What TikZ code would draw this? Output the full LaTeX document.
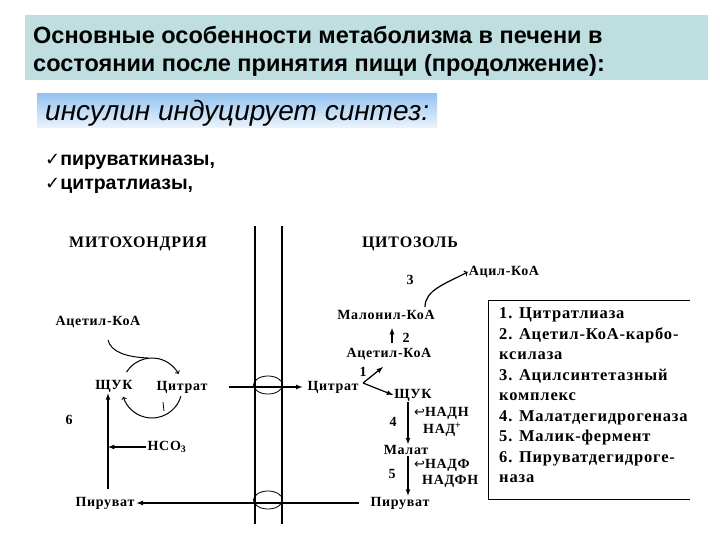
\documentclass[tikz,border=0pt]{standalone}
\usepackage{fontspec}
\setmainfont{Liberation Serif}
\setsansfont{Liberation Sans}
\newfontfamily\symfont{DejaVu Sans}
\newfontfamily\scanfont[LetterSpace=5]{Liberation Serif Bold}
\usetikzlibrary{arrows,positioning}

\definecolor{titlebg}{RGB}{191,222,224}
\definecolor{boxtop}{RGB}{150,196,240}
\definecolor{boxbot}{RGB}{236,244,252}

\tikzset{
  lbl/.style={font=\scanfont\fontsize{14}{16}\selectfont, inner sep=1pt},
  head/.style={font=\scanfont\fontsize{16}{18}\selectfont, inner sep=1pt},
  leg/.style={font=\scanfont\fontsize{16.5}{18}\selectfont, anchor=base west, inner sep=0pt},
  arr/.style={line width=1.2pt, -latex},
  membr/.style={line width=1.5pt},
}

\begin{document}
\begin{tikzpicture}[x=1pt,y=-1pt]
\useasboundingbox[fill=white] (0,0) rectangle (720,540);

% title
\fill[titlebg] (25,15) rectangle (708,80);
\node[anchor=base west, inner sep=0pt, font=\sffamily\bfseries\fontsize{23.5}{26}\selectfont] (title1) at (33,44) {Основные особенности метаболизма в печени в};
\node[anchor=base west, inner sep=0pt, font=\sffamily\bfseries\fontsize{23.5}{26}\selectfont] (title2) at (33,72) {состоянии после принятия пищи (продолжение):};

% insulin
\shade[top color=boxtop, bottom color=boxbot] (37,94) rectangle (437,128);
\node[anchor=base west, inner sep=0pt, font=\sffamily\itshape\fontsize{28}{30}\selectfont] (ins) at (45,121) {инсулин индуцирует синтез:};
\node[anchor=base west, inner sep=0pt, font=\sffamily\bfseries\fontsize{19.5}{22}\selectfont] (chk1) at (45,166) {{\symfont\mdseries\fontsize{18}{18}\selectfont ✓}пируваткиназы,};
\node[anchor=base west, inner sep=0pt, font=\sffamily\bfseries\fontsize{19.5}{22}\selectfont] (chk2) at (45,190) {{\symfont\mdseries\fontsize{18}{18}\selectfont ✓}цитратлиазы,};

% membrane
\draw[membr] (255,226) -- (255,524);
\draw[membr] (282,226) -- (282,524);
\draw[line width=0.8pt] (268,385) ellipse (14.5 and 9);
\draw[line width=0.8pt] (268,500) ellipse (14.5 and 9);

\node[head] (mito) at (138,244) {МИТОХОНДРИЯ};
\node[head] (cyto) at (410,244) {ЦИТОЗОЛЬ};

% mitochondria
\node[lbl] (macoa) at (98,322) {Ацетил-КоА};
\node[lbl] (mshuk) at (114,386) {ЩУК};
\node[lbl] (mcit) at (182,387) {Цитрат};
\node[lbl] (six) at (69,420) {6};
\node[lbl] (hco) at (167,447) {HCO\textsubscript{3}};
\node[lbl] (mpyr) at (105,503) {Пируват};

\coordinate (cyc) at (152,388);
\draw[line width=1pt, ->] ([shift={(212:30)}]cyc) arc[start angle=212, end angle=332, radius=30];
\draw[line width=1pt, ->] ([shift={(16:30)}]cyc) arc[start angle=16, end angle=163, radius=30];
\draw[line width=0.8pt] (163,402) -- (164,411);
\draw[line width=1pt] (108,340) .. controls (111,352) and (126,357) .. (148,358);

\coordinate (pyrup) at (108,489);
\draw[arr] (pyrup) -- (pyrup |- mshuk.south);
\draw[arr] (hco.west) -- (hco.west -| pyrup);

% cytosol
\node[lbl] (ccit) at (333,387) {Цитрат};
\node[lbl] (cpyr) at (400,503) {Пируват};
\node[lbl] (cshuk) at (413,395) {ЩУК};
\node[lbl] (cacoa) at (389,354) {Ацетил-КоА};
\node[lbl] (cmal) at (386,315) {Малонил-КоА};
\node[lbl] (acyl) at (504,272) {Ацил-КоА};
\node[lbl] (malat) at (406,450) {Малат};

% transport
\draw[arr, shorten <=20pt, shorten >=4pt] (mcit.east) -- (ccit.west);
\draw[arr, shorten <=10pt, shorten >=1pt] (cpyr.west) -- (mpyr.east);

\coordinate (br) at (363,383);
\draw[arr] (br) -- (383,367);
\draw[arr] (br) -- (cshuk.west);
\node[lbl] (one) at (363,372) {1};
\draw[arr] (392,343) -- (392,328);
\node[lbl] (two) at (406,338) {2};
\node[lbl] (three) at (410,280) {3};
\draw[line width=1.2pt, -to] (425,307) .. controls (425,290) and (445,284) .. (acyl.west);

\coordinate (ax) at (408,0);
\draw[arr] (cshuk.south -| ax) -- (malat.north -| ax);
\node[lbl] (four) at (393,422) {4};
\node[lbl, anchor=west] (nadh) at (413,413) {{\symfont\mdseries\fontsize{13}{13}\selectfont ↩}НАДН};
\node[lbl, anchor=west] (nad) at (422,430) {НАД\textsuperscript{+}};
\draw[arr] (malat.south -| ax) -- (cpyr.north -| ax);
\node[lbl] (five) at (392,474) {5};
\node[lbl, anchor=west] (nadp) at (413,465) {{\symfont\mdseries\fontsize{13}{13}\selectfont ↩}НАДФ};
\node[lbl, anchor=west] (nadph) at (421,481) {НАДФН};

% legend
\draw[line width=1pt] (690,300) -- (488,300) -- (488,499) -- (690,499);
\node[leg] (l1) at (499,318) {1. Цитратлиаза};
\node[leg] (l2) at (499,339) {2. Ацетил-КоА-карбо-};
\node[leg] (l3) at (499,359) {ксилаза};
\node[leg] (l4) at (499,380) {3. Ацилсинтетазный};
\node[leg] (l5) at (499,400) {комплекс};
\node[leg] (l6) at (499,421) {4. Малатдегидрогеназа};
\node[leg] (l7) at (499,441) {5. Малик-фермент};
\node[leg] (l8) at (499,462) {6. Пируватдегидроге-};
\node[leg] (l9) at (499,482) {наза};
\end{tikzpicture}
\end{document}
